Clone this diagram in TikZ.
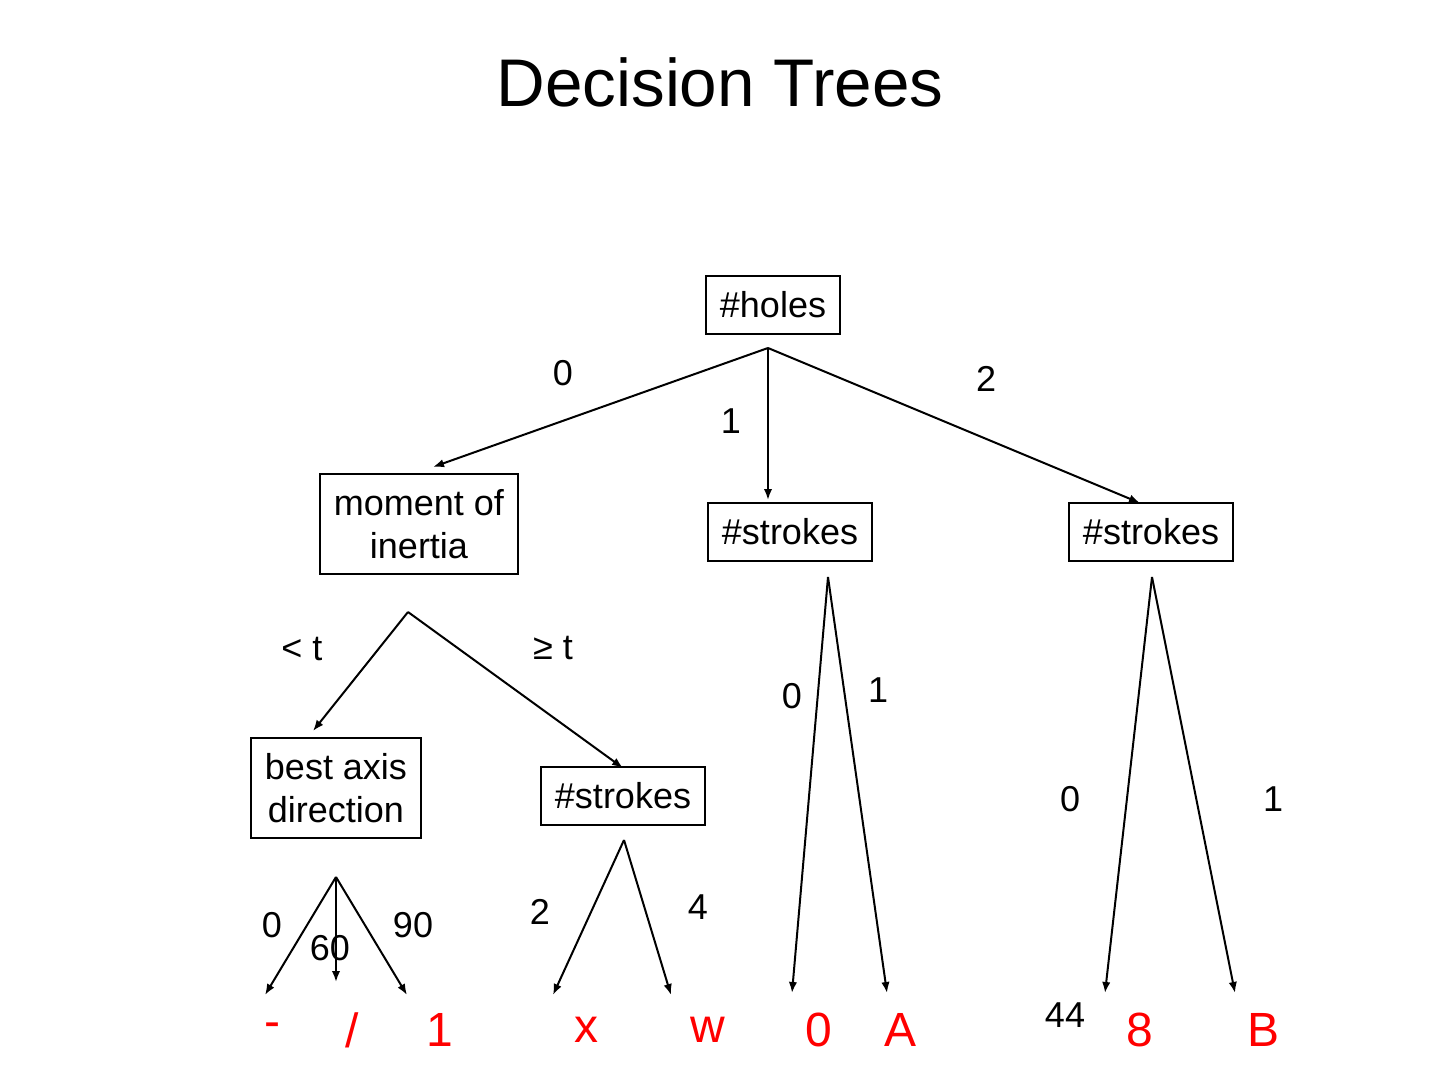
\documentclass[tikz,border=0pt]{standalone}
\usepackage{fontspec}
\setmainfont{Liberation Sans}
\usepackage{tikz}
\usetikzlibrary{arrows.meta,positioning}

\begin{document}
\begin{tikzpicture}[
    x=0.5pt, y=-0.5pt,
    box/.style={draw, line width=1pt, inner xsep=7pt, inner ysep=7.8pt, align=center, font=\fontsize{18}{21.5}\selectfont},
    edge/.style={line width=1pt, -{Latex[length=5.5pt,width=4.2pt]}},
    weight/.style={font=\fontsize{18}{21.5}\selectfont},
    leaf/.style={text=red, font=\fontsize{24}{28}\selectfont}
]
\useasboundingbox (0,0) rectangle (1440,1080);

% Title
\node[font=\fontsize{33.7}{40}\selectfont] (title) at (720,82) {Decision Trees};

% Nodes
\node[box] (holes) at (773,305) {\#holes};
\node[box] (moment) at (419,524) {moment of\\inertia};
\node[box] (strokesA) at (790,532) {\#strokes};
\node[box] (strokesB) at (1151,532) {\#strokes};
\node[box] (axis) at (336,788) {best axis\\direction};
\node[box] (strokesC) at (623,796) {\#strokes};

% Leaves
\node[leaf] (l1) at (272,1030) {-};
\node[leaf] (l2) at (352,1030) {/};
\node[leaf] (l3) at (440,1030) {1};
\node[leaf] (l4) at (586,1030) {x};
\node[leaf] (l5) at (708,1030) {w};
\node[leaf] (l6) at (819,1030) {0};
\node[leaf] (l7) at (900,1030) {A};
\node[leaf] (l8) at (1140,1030) {8};
\node[leaf] (l9) at (1263,1030) {B};

% Fork points
\coordinate (holesF) at (768,348);
\coordinate (momentF) at (408,612);
\coordinate (strokesAF) at (828,577);
\coordinate (strokesBF) at (1152,577);
\coordinate (axisF) at (336,877);
\coordinate (strokesCF) at (624,840);

% Arrow ends
\coordinate (momentT) at (433,467);
\coordinate (strokesAT) at (768,500);
\coordinate (strokesBT) at (1140,503);
\coordinate (axisT) at (313,731);
\coordinate (strokesCT) at (623,768);
\coordinate (l1T) at (265,995);
\coordinate (l2T) at (336,982);
\coordinate (l3T) at (407,995);
\coordinate (l4T) at (553,995);
\coordinate (l5T) at (671,995);
\coordinate (l6T) at (792,993);
\coordinate (l7T) at (887,993);
\coordinate (l8T) at (1105,993);
\coordinate (l9T) at (1235,993);

% Edges from #holes
\draw[edge] (holesF) -- (momentT);
\draw[edge] (holesF) -- (strokesAT);
\draw[edge] (holesF) -- (strokesBT);

% Edges from moment of inertia
\draw[edge] (momentF) -- (axisT);
\draw[edge] (momentF) -- (strokesCT);

% Edges to leaves
\draw[edge] (axisF) -- (l1T);
\draw[edge] (axisF) -- (l2T);
\draw[edge] (axisF) -- (l3T);
\draw[edge] (strokesCF) -- (l4T);
\draw[edge] (strokesCF) -- (l5T);
\draw[edge] (strokesAF) -- (l6T);
\draw[edge] (strokesAF) -- (l7T);
\draw[edge] (strokesBF) -- (l8T);
\draw[edge] (strokesBF) -- (l9T);

% Branch labels
\node[weight] (w1) at (563,373) {0};
\node[weight] (w2) at (731,421) {1};
\node[weight] (w3) at (986,379) {2};
\node[weight] (w4) at (302,649) {< t};
\node[weight] (w5) at (553,648) {≥ t};
\node[weight] (w6) at (792,696) {0};
\node[weight] (w7) at (878,690) {1};
\node[weight] (w8) at (1070,799) {0};
\node[weight] (w9) at (1273,799) {1};
\node[weight] (w10) at (272,925) {0};
\node[weight] (w11) at (330,948) {60};
\node[weight] (w12) at (413,925) {90};
\node[weight] (w13) at (540,912) {2};
\node[weight] (w14) at (698,907) {4};
\node[weight] (w15) at (1065,1015) {44};

\end{tikzpicture}
\end{document}
